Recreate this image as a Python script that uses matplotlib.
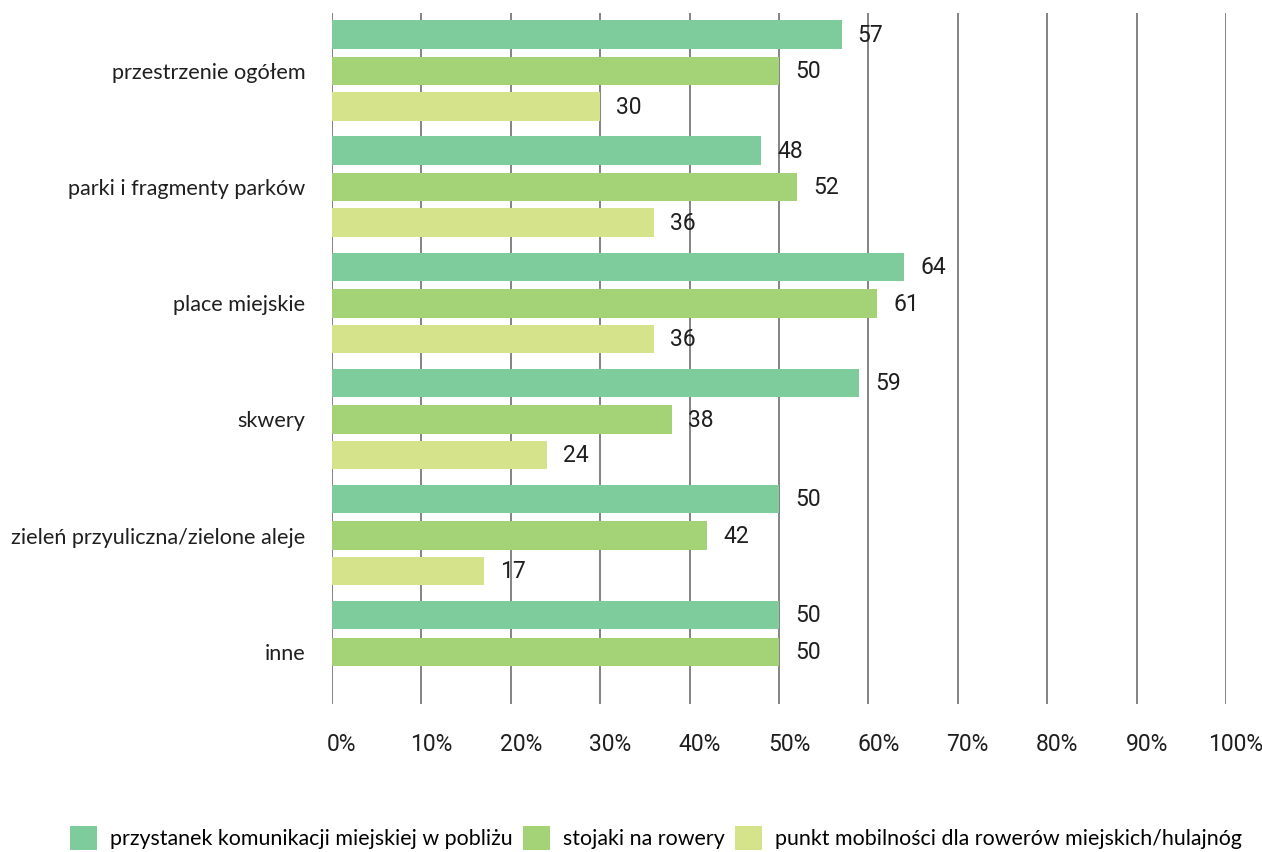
import matplotlib
matplotlib.use("Agg")
import matplotlib.pyplot as plt
import matplotlib.transforms as mtransforms
from matplotlib.patches import Patch
from matplotlib import font_manager
import numpy as np

categories = [
    "przestrzenie ogółem",
    "parki i fragmenty parków",
    "place miejskie",
    "skwery",
    "zieleń przyuliczna/zielone aleje",
    "inne",
]
series_names = [
    "przystanek komunikacji miejskiej w pobliżu",
    "stojaki na rowery",
    "punkt mobilności dla rowerów miejskich/hulajnóg",
]
przystanek = [57, 48, 64, 59, 50, 50]
stojaki = [50, 52, 61, 38, 42, 50]
punkt = [30, 36, 36, 24, 17, None]
x_ticks = [0, 10, 20, 30, 40, 50, 60, 70, 80, 90, 100]
x_tick_labels = [f"{t}%" for t in x_ticks]

colors = ["#7ecb9c", "#a3d277", "#d5e38b"]

installed = {f.name for f in font_manager.fontManager.ttflist}
num_font = "Liberation Sans Narrow" if "Liberation Sans Narrow" in installed else "Roboto"
label_font = "Lato"
text_color = "#1f1f1f"

fig = plt.figure(figsize=(12.62, 8.52), dpi=100)
ax = fig.add_axes([332 / 1262, 1 - 704 / 852, (1226 - 332) / 1262, (704 - 13) / 852])

y = np.arange(len(categories))
offsets = [-0.315, 0.0, 0.305]
bar_h = 0.245
for vals, off, col in zip([przystanek, stojaki, punkt], offsets, colors):
    for yi, v in zip(y, vals):
        if v is None:
            continue
        ax.barh(yi + off, v, height=bar_h, color=col, zorder=3)
        ax.annotate(f"{v}", xy=(v, yi + off), xytext=(11.5, -0.5),
                    textcoords="offset points", va="center", ha="left",
                    fontsize=16.5, family=num_font, color=text_color, zorder=4)

ax.set_xlim(0, 100)
ax.set_ylim(5.45, -0.5)
ax.set_xticks(x_ticks)
ax.set_xticklabels(x_tick_labels, family=num_font, fontsize=16.5, color=text_color)
ax.set_yticks(y)
ax.set_yticklabels(categories, family=label_font, fontsize=15.6, color=text_color)
ax.tick_params(axis="x", length=0, pad=21)
ax.tick_params(axis="y", length=0, pad=19)

# percent labels sit a little right of their gridlines
shift = mtransforms.ScaledTranslation(10 / 100, 0, fig.dpi_scale_trans)
for lbl in ax.get_xticklabels():
    lbl.set_transform(lbl.get_transform() + shift)

for s in ax.spines.values():
    s.set_visible(False)
ax.xaxis.grid(True, color="#6e6e6e", linewidth=1.2, zorder=1)
ax.set_axisbelow(True)

handles = [Patch(facecolor=c, edgecolor="none") for c in colors]
fig.legend(handles, series_names, loc="center", ncol=3,
           bbox_to_anchor=(656 / 1262, 1 - 838 / 852), frameon=False,
           prop={"family": label_font, "size": 15.4},
           handlelength=1.25, handleheight=1.35, handletextpad=0.6,
           columnspacing=0.5, borderaxespad=0)

fig.savefig("out.png", dpi=100, facecolor="white")
